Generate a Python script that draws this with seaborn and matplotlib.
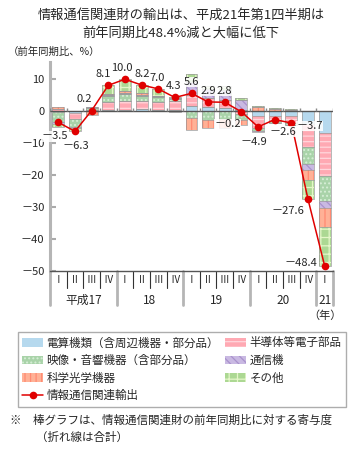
import numpy as np
import pandas as pd
import matplotlib
matplotlib.use("Agg")
import matplotlib.pyplot as plt
from matplotlib.patches import Patch
from matplotlib.lines import Line2D
import seaborn as sns

# データ（寄与度、%）
quarters = ["Ⅰ", "Ⅱ", "Ⅲ", "Ⅳ"] * 4 + ["Ⅰ"]
years = ["平成17", "18", "19", "20", "21"]
total = [-3.5, -6.3, 0.2, 8.1, 10.0, 8.2, 7.0, 4.3, 5.6, 2.9, 2.8, -0.2,
         -4.9, -2.6, -3.7, -27.6, -48.4]
computer = [-0.3, -0.5, 0.2, 0.3, 0.3, 0.8, 0.4, 0.3, 1.7, 1.2, 1.0, 0.3,
            -1.6, -1.5, -1.6, -3.9, -6.7]
semicon = [0.8, -1.8, 0.3, 2.6, 2.8, 2.5, 2.6, 3.0, 3.3, 2.8, 2.5, -0.8,
           -3.6, -1.5, -2.0, -7.3, -13.6]
av = [-3.0, -2.7, 0.6, 2.0, 2.2, 1.6, 1.5, 0.5, -2.0, -2.6, -2.5, -1.8,
      -1.0, -0.6, -0.6, -5.4, -7.7]
telecom = [-0.8, -0.3, 0.3, 0.2, 0.4, 0.3, 0.2, 0.2, 4.0, 2.8, 3.0, 3.2,
           -0.2, -0.1, -0.2, -1.7, -2.4]
optical = [0.6, 0.0, -1.2, 0.3, 0.5, 0.4, 0.2, -0.2, -4.0, -2.5, -2.6, -1.6,
           1.2, 0.6, 0.4, -3.1, -5.9]
other = [-0.8, -1.0, 0.0, 2.7, 3.8, 2.6, 2.1, 0.5, 2.6, 1.2, 1.4, 0.5,
         0.3, 0.5, 0.3, -6.2, -12.1]

names = ["電算機類（含周辺機器・部分品）", "半導体等電子部品", "映像・音響機器（含部分品）",
         "通信機", "科学光学機器", "その他"]
series = [computer, semicon, av, telecom, optical, other]
faces = ["#b6d9ee", "#ffa9b3", "#a9d3a9", "#c9b9e2", "#ffb196", "#acd893"]
hatch_cols = ["#b6d9ee", "#ffd6dc", "#d6eed6", "#a992cc", "#ff8a72", "#e4f6c8"]
hatches = [None, "---", "....", "\\\\\\\\", "|||", "++"]

sns.set_theme(style="white")
plt.rcParams["font.family"] = ["Noto Sans CJK JP", "DejaVu Sans"]
plt.rcParams["hatch.linewidth"] = 0.9

fig = plt.figure(figsize=(3.62, 4.53), dpi=100)
ax = fig.add_axes([50 / 362, 1 - 271 / 453, 283 / 362, 209 / 453])

x = np.arange(len(total))
pos_bottom = np.zeros(len(x))
neg_bottom = np.zeros(len(x))
for vals, fc, hc, h in zip(series, faces, hatch_cols, hatches):
    v = np.array(vals)
    bottom = np.where(v >= 0, pos_bottom, neg_bottom)
    ax.bar(x, v, width=0.72, bottom=bottom, color=fc, edgecolor=hc,
           linewidth=0, hatch=h, zorder=2)
    ax.bar(x, v, width=0.72, bottom=bottom, fill=False, edgecolor="#9a9a9a",
           linewidth=0.5, zorder=2)
    pos_bottom += np.where(v >= 0, v, 0)
    neg_bottom += np.where(v < 0, v, 0)

df = pd.DataFrame({"x": x, "total": total})
sns.lineplot(data=df, x="x", y="total", ax=ax, color="#e00000", lw=1.1,
             marker="o", markersize=5.5, markeredgewidth=0, zorder=4)

# ゼロ線と目盛り
ax.axhline(0, color="#555555", lw=1, zorder=3)
ax.vlines(np.arange(len(x) + 1) - 0.5, 0, 0.9, color="#888888", lw=1, zorder=3)

# ラベル
offsets = [(-4, -14), (1, -15), (-7, 12), (-5, 11), (-3, 11), (1, 11),
           (-1, 11), (-1, 11), (0, 11), (0, 11), (0, 11), (-14, -12),
           (-4, -15), (8, -12), (18, -3), (-20, -12), (-24, 3)]
for xi, yi, off in zip(x, total, offsets):
    lab = f"{yi:.1f}".replace("-", "－")
    ax.annotate(lab, (xi, yi), xytext=off, textcoords="offset pixels",
                ha="center", va="center", fontsize=8, zorder=5,
                bbox=dict(facecolor="white", edgecolor="none", pad=0.1, alpha=0.85))

ax.set_xlim(-0.5, 16.5)
ax.set_ylim(-50, 15.4)
ax.set_yticks([10, 0, -10, -20, -30, -40, -50])
ax.set_yticklabels(["10", "0", "－10", "－20", "－30", "－40", "－50"], fontsize=8)
ax.set_xticks([])
ax.set_xlabel("")
ax.set_ylabel("")
ax.tick_params(axis="y", direction="in", length=4, width=1.5, color="#aaaaaa",
               pad=4, left=True)
for s in ["top", "right"]:
    ax.spines[s].set_visible(False)
ax.spines["left"].set_color("#b5b5b5")
ax.spines["left"].set_linewidth(2.2)
ax.spines["bottom"].set_color("#555555")
ax.spines["bottom"].set_linewidth(1)
ax.grid(False)

# 四半期・年の区切り
tr = ax.get_xaxis_transform()
for k in range(len(x) + 1):
    b = k - 0.5
    if k in (0, 4, 8, 12, 16, 17):
        ax.plot([b, b], [0, -0.165], transform=tr, color="#b5b5b5", lw=2,
                clip_on=False, zorder=1)
    else:
        ax.plot([b, b], [0, -0.08], transform=tr, color="#333333", lw=0.8,
                clip_on=False, zorder=1)
for xi, q in zip(x, quarters):
    ax.text(xi, -0.043, q, transform=tr, ha="center", va="center", fontsize=7)
for xc, yl in zip([1.5, 5.5, 9.5, 13.5, 16], years):
    ax.text(xc, -0.14, yl, transform=tr, ha="center", va="center", fontsize=8.5)
ax.text(16, -0.215, "（年）", transform=tr, ha="center", va="center", fontsize=8)

fig.text(0.5, 1 - 15 / 453, "情報通信関連財の輸出は、平成21年第1四半期は",
         ha="center", va="center", fontsize=9.5)
fig.text(0.5, 1 - 33 / 453, "前年同期比48.4%減と大幅に低下",
         ha="center", va="center", fontsize=9.5)
fig.text(8 / 362, 1 - 52 / 453, "（前年同期比、%）", ha="left", va="center",
         fontsize=7.5)

# 凡例
patches = [Patch(facecolor=fc, edgecolor=hc, hatch=h, linewidth=0)
           for fc, hc, h in zip(faces, hatch_cols, hatches)]
line_h = Line2D([], [], color="#e00000", lw=1.1, marker="o", markersize=5.5,
                markeredgewidth=0)
handles = [patches[0], patches[2], patches[4], line_h, patches[1], patches[3], patches[5]]
labels = [names[0], names[2], names[4], "情報通信関連輸出", names[1], names[3], names[5]]
leg = fig.legend(handles, labels, loc="upper left", ncol=2, mode="expand",
                 bbox_to_anchor=(12 / 362, 1 - 400 / 453, 340 / 362, 74 / 453),
                 fontsize=8.3, frameon=True, fancybox=False, handlelength=1.8,
                 handleheight=0.8, handletextpad=0.3, labelspacing=0.4,
                 borderpad=0.4, columnspacing=0.5)
leg.get_frame().set_edgecolor("#999999")
leg.get_frame().set_linewidth(1)

fig.text(10 / 362, 1 - 420 / 453, "※　棒グラフは、情報通信関連財の前年同期比に対する寄与度",
         ha="left", va="center", fontsize=8.3)
fig.text(36 / 362, 1 - 437 / 453, "（折れ線は合計）", ha="left", va="center",
         fontsize=8.3)

fig.savefig("out.png", dpi=100)
